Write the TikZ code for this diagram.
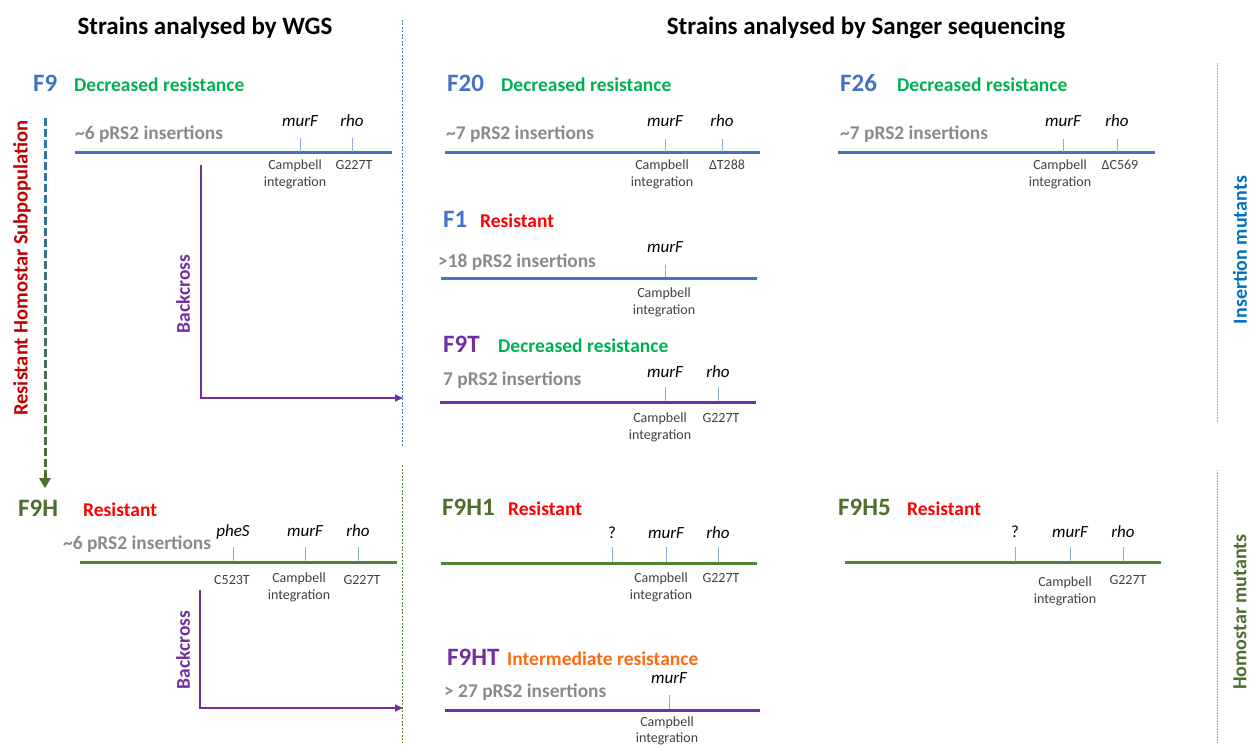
\documentclass[tikz,border=0pt]{standalone}
\usepackage{fontspec}
\setmainfont{Carlito}
\usetikzlibrary{arrows.meta, calc}
\definecolor{fblue}{HTML}{4472C4}
\definecolor{pgreen}{HTML}{00B050}
\definecolor{pred}{HTML}{FF0000}
\definecolor{hgreen}{HTML}{4E6E2E}
\definecolor{lgreen}{HTML}{548235}
\definecolor{cpurple}{HTML}{7030A0}
\definecolor{corange}{HTML}{FF6A10}
\definecolor{cgray}{HTML}{8A8A8A}
\definecolor{tickblue}{HTML}{8FAADC}
\definecolor{sblue}{HTML}{0070C0}
\definecolor{sred}{HTML}{C00000}
\definecolor{ablue}{HTML}{2E75B6}
\begin{document}
\begin{tikzpicture}[x=1pt, y=-1pt,
    title/.style={font=\fontsize{25}{28}\selectfont\bfseries, anchor=base, inner sep=0pt},
    strain/.style={font=\fontsize{25}{28}\selectfont\bfseries, anchor=base west, inner sep=0pt},
    phen/.style={font=\fontsize{19.5}{22}\selectfont\bfseries, anchor=base west, inner sep=0pt},
    ins/.style={font=\fontsize{19.4}{22}\selectfont\bfseries, text=cgray, anchor=base west, inner sep=0pt},
    gene/.style={font=\fontsize{17}{19}\selectfont\itshape, anchor=base, inner sep=0pt},
    note/.style={font=\fontsize{14}{16.5}\selectfont, text=black!75, align=center, anchor=north, inner sep=0pt},
    chrom/.style={line width=3pt},
    tick/.style={draw=tickblue, line width=1pt},
    cross/.style={draw=cpurple, line width=1.6pt, -{Triangle[length=8pt,width=7pt]}},
    bctext/.style={font=\fontsize{19.5}{22}\selectfont\bfseries, text=cpurple, rotate=90, inner sep=0pt},
    side/.style={font=\fontsize{20}{22}\selectfont\bfseries, rotate=90, inner sep=0pt},
  ]
    \useasboundingbox (0,0) rectangle (1251,749);

    % titles and dividers
    \node[title] (twgs) at (205,35) {Strains analysed by WGS};
    \node[title] (tsang) at (866,35) {Strains analysed by Sanger sequencing};
    \draw[fblue, line width=0.8pt, dash pattern=on 2pt off 1.5pt] (402,20) -- (402,447);
    \draw[lgreen, line width=0.8pt, dash pattern=on 2pt off 1.5pt] (402,465) -- (402,742);
    \draw[tickblue, line width=0.7pt, dash pattern=on 1pt off 0.6pt] (1217,63) -- (1217,423);
    \draw[lgreen!60, line width=0.7pt, dash pattern=on 1pt off 0.6pt] (1217,470) -- (1217,743);
    \node[side, text=sblue] (insm) at (1240,250) {Insertion mutants};
    \node[side, text=hgreen] (homm) at (1240,612) {Homostar mutants};

    % subpopulation arrow
    \coordinate (subtop) at (45,118);
    \coordinate (subbot) at (45,488);
    \foreach \i in {0,...,32} {
      \pgfmathtruncatemacro\p{100*\i/32}
      \draw[line width=3pt, color=hgreen!\p!ablue] ($(subtop)+(0,11*\i)$) -- ++(0,8);
    }
    \fill[hgreen] (39,478) -- (51,478) -- (subbot) -- cycle;
    \node[side, font=\fontsize{20.5}{24}\selectfont\bfseries, text=sred] (subl) at (22,268) {Resistant Homostar Subpopulation};

    % F9
    \node[strain, text=fblue] (f9) at (33,92) {F9};
    \node[phen, text=pgreen] (f9p) at (74,92) {Decreased resistance};
    \node[ins] (f9i) at (75,140) {\textasciitilde6 pRS2 insertions};
    \draw[chrom, fblue] (75,153) -- (392,153);
    \draw[tick] (300,138) -- (300,152);
    \draw[tick] (352,138) -- (352,152);
    \node[gene] (f9g1) at (300,127) {murF};
    \node[gene] (f9g2) at (352,127) {rho};
    \node[note] (f9n1) at (295,160) {Campbell\\integration};
    \node[note] (f9n2) at (354,160) {G227T};

    % backcross F9 -> F9T
    \coordinate (bc1) at (201,165);
    \coordinate (bc1end) at (403,398);
    \draw[cross] (bc1) |- (bc1end);
    \node[bctext] (bc1l) at (183,294) {Backcross};

    % F20
    \node[strain, text=fblue] (f20) at (447,92) {F20};
    \node[phen, text=pgreen] (f20p) at (501,92) {Decreased resistance};
    \node[ins] (f20i) at (446,140) {\textasciitilde7 pRS2 insertions};
    \draw[chrom, fblue] (445,153) -- (760,153);
    \draw[tick] (665,139) -- (665,152);
    \draw[tick] (722,139) -- (722,152);
    \node[gene] (f20g1) at (665,127) {murF};
    \node[gene] (f20g2) at (722,127) {rho};
    \node[note] (f20n1) at (662,160) {Campbell\\integration};
    \node[note] (f20n2) at (727,160) {ΔT288};

    % F26
    \node[strain, text=fblue] (f26) at (840,92) {F26};
    \node[phen, text=pgreen] (f26p) at (897,92) {Decreased resistance};
    \node[ins] (f26i) at (840,140) {\textasciitilde7 pRS2 insertions};
    \draw[chrom, fblue] (838,153) -- (1155,153);
    \draw[tick] (1063,139) -- (1063,152);
    \draw[tick] (1117,139) -- (1117,152);
    \node[gene] (f26g1) at (1063,127) {murF};
    \node[gene] (f26g2) at (1117,127) {rho};
    \node[note] (f26n1) at (1060,160) {Campbell\\integration};
    \node[note] (f26n2) at (1120,160) {ΔC569};

    % F1
    \node[strain, text=fblue] (f1) at (443,227) {F1};
    \node[phen, text=pred] (f1p) at (480,227) {Resistant};
    \node[ins] (f1i) at (438,267) {>18 pRS2 insertions};
    \draw[chrom, fblue] (441,278) -- (757,278);
    \draw[tick] (665,265) -- (665,277);
    \node[gene] (f1g1) at (665,252) {murF};
    \node[note] (f1n1) at (664,288) {Campbell\\integration};

    % F9T
    \node[strain, text=cpurple] (f9t) at (443,352) {F9T};
    \node[phen, text=pgreen] (f9tp) at (498,352) {Decreased resistance};
    \node[ins] (f9ti) at (443,385) {7 pRS2 insertions};
    \draw[chrom, cpurple] (440,402) -- (756,402);
    \draw[tick] (665,387) -- (665,401);
    \draw[tick] (718,387) -- (718,401);
    \node[gene] (f9tg1) at (665,377) {murF};
    \node[gene] (f9tg2) at (718,377) {rho};
    \node[note] (f9tn1) at (660,413) {Campbell\\integration};
    \node[note] (f9tn2) at (721,413) {G227T};

    % F9H
    \node[strain, text=hgreen] (f9h) at (18,516) {F9H};
    \node[phen, text=pred] (f9hp) at (83,516) {Resistant};
    \node[ins] (f9hi) at (63,549) {\textasciitilde6 pRS2 insertions};
    \draw[chrom, lgreen] (80,562) -- (397,562);
    \draw[tick] (233,547) -- (233,561);
    \draw[tick] (305,547) -- (305,561);
    \draw[tick] (358,547) -- (358,561);
    \node[gene] (f9hg0) at (233,536) {pheS};
    \node[gene] (f9hg1) at (305,536) {murF};
    \node[gene] (f9hg2) at (358,536) {rho};
    \node[note] (f9hn0) at (232,575) {C523T};
    \node[note] (f9hn1) at (299,573) {Campbell\\integration};
    \node[note] (f9hn2) at (362,575) {G227T};

    % backcross F9H -> F9HT
    \coordinate (bc2) at (200,590);
    \coordinate (bc2end) at (403,708);
    \draw[cross] (bc2) |- (bc2end);
    \node[bctext] (bc2l) at (183,650) {Backcross};

    % F9H1
    \node[strain, text=hgreen] (f9h1) at (442,515) {F9H1};
    \node[phen, text=pred] (f9h1p) at (508,515) {Resistant};
    \draw[chrom, lgreen] (441,563) -- (757,563);
    \draw[tick] (612,547) -- (612,562);
    \draw[tick] (666,547) -- (666,562);
    \draw[tick] (718,547) -- (718,562);
    \node[gene, font=\fontsize{17}{19}\selectfont] (f9h1g0) at (612,538) {?};
    \node[gene] (f9h1g1) at (666,538) {murF};
    \node[gene] (f9h1g2) at (718,538) {rho};
    \node[note] (f9h1n1) at (661,573) {Campbell\\integration};
    \node[note] (f9h1n2) at (721,573) {G227T};

    % F9H5
    \node[strain, text=hgreen] (f9h5) at (838,515) {F9H5};
    \node[phen, text=pred] (f9h5p) at (907,515) {Resistant};
    \draw[chrom, lgreen] (845,562) -- (1161,562);
    \draw[tick] (1015,547) -- (1015,561);
    \draw[tick] (1070,547) -- (1070,561);
    \draw[tick] (1123,547) -- (1123,561);
    \node[gene, font=\fontsize{17}{19}\selectfont] (f9h5g0) at (1015,537) {?};
    \node[gene] (f9h5g1) at (1070,537) {murF};
    \node[gene] (f9h5g2) at (1123,537) {rho};
    \node[note] (f9h5n1) at (1065,577) {Campbell\\integration};
    \node[note] (f9h5n2) at (1128,575) {G227T};

    % F9HT
    \node[strain, text=cpurple] (f9ht) at (447,665) {F9HT};
    \node[phen, text=corange] (f9htp) at (507,665) {Intermediate resistance};
    \node[ins] (f9hti) at (444,697) {> 27 pRS2 insertions};
    \draw[chrom, cpurple] (445,710) -- (760,710);
    \draw[tick] (669,695) -- (669,709);
    \node[gene] (f9htg1) at (669,683) {murF};
    \node[note, font=\fontsize{14}{15.5}\selectfont] (f9htn1) at (667,717) {Campbell\\integration};
  \end{tikzpicture}
\end{document}
